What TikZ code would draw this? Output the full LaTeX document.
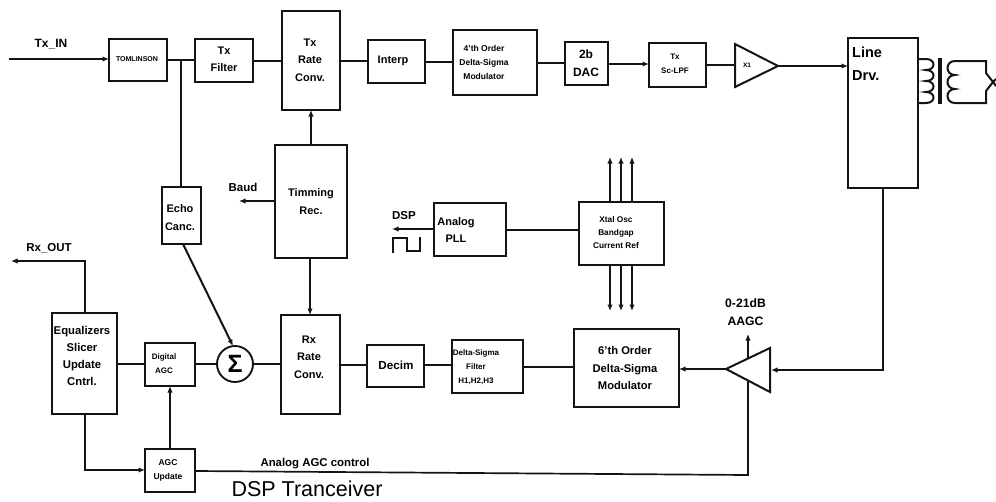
\documentclass[tikz,border=0pt]{standalone}
\usepackage{fontspec}
\setmainfont{Liberation Sans}
\usetikzlibrary{arrows.meta}
\tikzset{
  x=1pt,y=-1pt,
  wire/.style={line width=1.7pt,black!92},
  arr/.style={wire,-{Latex[length=6.5pt,width=5.5pt]}},
  blk/.style={draw=black!92,line width=1.9pt,inner sep=0pt},
  lab/.style={inner sep=0pt,align=center,font=\bfseries\fontsize{11.5}{17.5}\selectfont},
}
\newcommand{\fsz}[2]{\bfseries\fontsize{#1}{#2}\selectfont}
% [label options]{name}{x1}{y1}{x2}{y2}{text x}{text y}{text}
\newcommand{\blkbox}[9][]{%
  \pgfmathsetmacro{\cxx}{(#3+#5)/2}\pgfmathsetmacro{\cyy}{(#4+#6)/2}%
  \pgfmathsetmacro{\www}{#5-#3}\pgfmathsetmacro{\hhh}{#6-#4}%
  \node[blk,minimum width=\www pt,minimum height=\hhh pt] (#2) at (\cxx,\cyy) {};%
  \node[lab,#1] (#2-t) at (#7,#8) {#9};}
\begin{document}
\begin{tikzpicture}
\useasboundingbox (0,0) rectangle (996,501);
\blkbox[font=\fsz{7}{9}]{tom}{109}{39}{167}{81}{137}{59}{TOMLINSON}
\blkbox[font=\fsz{11}{17}]{txf}{195}{39}{253}{82}{224}{59}{Tx\\Filter}
\blkbox[font=\fsz{11}{17.5}]{txr}{282}{11}{340}{110}{310}{60}{Tx\\Rate\\Conv.}
\blkbox[font=\fsz{11}{14}]{interp}{368}{40}{425}{83}{393}{61}{Interp}
\blkbox[font=\fsz{8.5}{14}]{mod4}{453}{30}{537}{95}{484}{62}{4'th Order\\Delta-Sigma\\Modulator}
\blkbox[font=\fsz{12}{18}]{dac}{565}{42}{608}{85}{586}{63}{2b\\DAC}
\blkbox[font=\fsz{8}{14}]{lpf}{649}{43}{706}{87}{675}{64}{Tx\\Sc-LPF}
\blkbox[font=\fsz{14.5}{23},align=left,anchor=north west]{ld}{848}{38}{918}{188}{852}{47}{Line\\Drv.}
\blkbox[font=\fsz{11}{18}]{tim}{275}{145}{347}{258}{311}{202}{Timming\\Rec.}
\blkbox[font=\fsz{11}{18}]{echo}{162}{187}{201}{244}{180}{218}{Echo\\Canc.}
\blkbox[font=\fsz{11}{17}]{pll}{434}{203}{506}{256}{456}{230}{Analog\\PLL}
\blkbox[font=\fsz{8.3}{13}]{xtal}{579}{202}{664}{265}{616}{233}{Xtal Osc\\Bandgap\\Current Ref}
\blkbox[font=\fsz{11.3}{17.3}]{eq}{52}{313}{117}{414}{82}{356}{Equalizers\\Slicer\\Update\\Cntrl.}
\blkbox[font=\fsz{8}{14}]{dagc}{145}{343}{195}{386}{164}{364}{Digital\\AGC}
\node[draw=black!92,line width=1.9pt,circle,minimum size=36pt,inner sep=0pt,font=\fsz{25}{25}] (sum) at (235,364) {Σ};
\blkbox[font=\fsz{11}{17.3}]{rxr}{281}{315}{340}{414}{309}{357}{Rx\\Rate\\Conv.}
\blkbox[font=\fsz{11.7}{14}]{decim}{367}{345}{424}{387}{396}{365}{Decim}
\blkbox[font=\fsz{8}{14}]{dsf}{452}{340}{523}{393}{476}{367}{Delta-Sigma\\Filter\\H1,H2,H3}
\blkbox[font=\fsz{11.2}{17.5}]{mod6}{574}{329}{679}{407}{625}{368}{6'th Order\\Delta-Sigma\\Modulator}
\blkbox[font=\fsz{8.5}{14}]{agcu}{145}{449}{195}{492}{168}{470}{AGC\\Update}
% triangles
\coordinate (x1a) at (735,44);\coordinate (x1b) at (735,87);\coordinate (x1c) at (778,66);
\draw[line width=2pt,line join=miter,black!92] (x1a)--(x1c)--(x1b)--cycle;
\node[lab,font=\fsz{6.5}{8}] (x1) at (747,65) {X1};
\coordinate (aa) at (726,369);\coordinate (ab) at (770,348);\coordinate (ac) at (770,392);
\draw[line width=2pt,line join=miter,black!92] (aa)--(ab)--(ac)--cycle;
% top chain
\coordinate (txin) at (9,59);
\draw[arr] (txin) -- (109,59);
\draw[wire] (167,60) -- (195,60);
\draw[wire] (253,61) -- (282,61);
\draw[wire] (340,61) -- (368,61);
\draw[wire] (425,62) -- (453,62);
\draw[wire] (537,63) -- (565,63);
\draw[arr] (608,64) -- (649,64);
\draw[wire] (706,65) -- (735,65);
\draw[arr] (x1c) -- (848,66);
\draw[wire] (181,60) -- (181,187);
\draw[arr] (311,145) -- (311,110);
\coordinate (baud) at (239,201);
\draw[arr] (275,201) -- (baud);
\draw[arr] (310,258) -- (310,315);
\coordinate (dsp) at (392,229);
\draw[arr] (434,229) -- (dsp);
\draw[wire] (506,230) -- (579,230);
\foreach \xx in {610,621,632}{
  \draw[arr] (\xx,202) -- (\xx,157);
  \draw[arr] (\xx,265) -- (\xx,311);
}
% bottom chain
\draw[wire] (117,364) -- (145,364);
\draw[wire] (195,364) -- (sum);
\draw[wire] (sum) -- (281,364);
\draw[wire] (340,365) -- (367,365);
\draw[wire] (424,365) -- (452,365);
\draw[wire] (523,367) -- (574,367);
\draw[arr] (aa) -- (679,369);
\draw[arr] (883,188) -- (883,370) -- (771,370);
\draw[arr,line width=2pt] (183,244) -- (233,346);
\coordinate (rxout) at (11,261);
\draw[arr] (85,313) -- (85,261) -- (rxout);
\draw[arr] (85,414) -- (85,470) -- (145,470);
\draw[arr] (170,449) -- (170,386);
\draw[wire] (195,471) -- (748,475) -- (748,381);
\coordinate (aout) at (748,334);
\draw[arr] (748,358) -- (aout);
% square wave
\draw[line width=1.5pt,black!92] (393,253) -- (393,238) -- (407,238) -- (407,251) -- (420,251) -- (420,237);
% transformer
\draw[line width=2pt,black!92] (918,59) -- (926,59) .. controls (936,59) and (936,70) .. (926,70)
  .. controls (936,70) and (936,81) .. (926,81) .. controls (936,81) and (936,92) .. (926,92)
  .. controls (936,92) and (936,103) .. (926,103) -- (918,103);
\draw[line width=4.5pt,black!92] (940,58) -- (940,104);
\draw[line width=2pt,black!92] (986,61) -- (955,61) .. controls (945,61) and (945,75) .. (955,75)
  .. controls (945,75) and (945,89) .. (955,89) .. controls (945,89) and (945,103) .. (955,103)
  -- (986,103) -- (986,91) -- (993,82) -- (986,73) -- cycle;
\draw[line width=2pt,black!92] (993,82) -- (996,79) (993,82) -- (996,86);
% labels
\node[lab,font=\fsz{12}{16}] (l1) at (51,44) {Tx\_IN};
\node[lab] (l2) at (49,248) {Rx\_OUT};
\node[lab] (l3) at (243,187) {Baud};
\node[lab,font=\fsz{11.5}{14}] (l4) at (404,216) {DSP};
\node[lab,font=\fsz{12.2}{17.5}] (l5) at (745.5,312) {0-21dB\\AAGC};
\node[lab,font=\fsz{11.4}{14}] (l6) at (315,464) {Analog AGC control};
\node[inner sep=0pt,font=\fontsize{21.5}{24}\selectfont] (l7) at (307,488.5) {DSP Tranceiver};
\end{tikzpicture}
\end{document}
